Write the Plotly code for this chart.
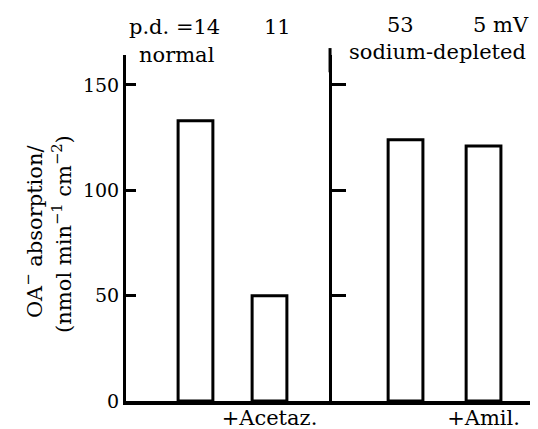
import plotly.graph_objects as go

# ---- data ----
conditions = ["normal", "normal +Acetaz.", "sodium-depleted", "sodium-depleted +Amil."]
oa_absorption = [133, 50, 124, 121]
tick_labels = ["", "+Acetaz.", "", "+Amil."]
pd_labels = ["p.d. =14", "11", "53", "5 mV"]
group_labels = ["normal", "sodium-depleted"]
y_ticks = [0, 50, 100, 150]

# ---- layout constants ----
x_pos = [1.0, 2.0, 3.838, 4.892]
divider_pos = 2.818
x_range = [0.061, 5.628]
y_range = [0, 164.2]
FONT = "DejaVu Serif"
TXT = 21

fig = go.Figure()
fig.add_trace(go.Bar(
    x=x_pos, y=oa_absorption, width=0.47,
    marker=dict(color="white", line=dict(color="black", width=3)),
    hovertext=conditions, showlegend=False,
))
fig.add_trace(go.Scatter(x=[divider_pos], y=[None], yaxis="y2",
                         mode="lines", showlegend=False))

# the page body has an 8px default margin, so the figure is 8px smaller
fig.update_layout(
    width=530, height=421,
    margin=dict(l=118, r=0, t=47, b=28),
    paper_bgcolor="white", plot_bgcolor="white",
    font=dict(family=FONT, color="black", size=19),
    xaxis=dict(range=x_range, showgrid=False, zeroline=False, automargin=False,
               showline=True, linecolor="black", linewidth=3.5,
               tickvals=x_pos, ticktext=tick_labels, ticks="",
               ticklabelstandoff=-5,
               tickfont=dict(family=FONT, size=TXT)),
    yaxis=dict(range=y_range, showgrid=False, zeroline=False, automargin=False,
               showline=True, linecolor="black", linewidth=3,
               tickvals=y_ticks, ticks="inside", ticklen=10, tickwidth=3,
               tickcolor="black", tickfont=dict(family=FONT, size=19)),
    yaxis2=dict(range=y_range, overlaying="y", anchor="free", automargin=False,
                position=(divider_pos - x_range[0]) / (x_range[1] - x_range[0]),
                side="left", showgrid=False, zeroline=False,
                showline=True, linecolor="black", linewidth=3,
                tickvals=y_ticks[1:], ticks="inside", ticklen=14, tickwidth=3,
                tickcolor="black", showticklabels=False),
    shapes=[dict(type="line", xref="x", yref="paper",
                 x0=divider_pos, x1=divider_pos, y0=0.95, y1=1.02,
                 line=dict(color="black", width=3))],
)

tf = dict(family=FONT, size=TXT, color="black")
ann = []
# p.d. labels above bars
ann.append(dict(x=x_pos[0], y=1.0, xref="x", yref="paper", text=pd_labels[0], font=tf,
                xanchor="right", yanchor="middle", xshift=27, yshift=28, showarrow=False))
ann.append(dict(x=x_pos[1], y=1.0, xref="x", yref="paper", text=pd_labels[1], font=tf,
                xanchor="center", yanchor="middle", xshift=8, yshift=28, showarrow=False))
ann.append(dict(x=x_pos[2], y=1.0, xref="x", yref="paper", text=pd_labels[2], font=tf,
                xanchor="center", yanchor="middle", xshift=-5, yshift=30, showarrow=False))
ann.append(dict(x=x_pos[3], y=1.0, xref="x", yref="paper", text=pd_labels[3], font=tf,
                xanchor="left", yanchor="middle", xshift=-13, yshift=30, showarrow=False))
# group labels
ann.append(dict(x=x_range[0], y=1.0, xref="x", yref="paper", text=group_labels[0], font=tf,
                xanchor="left", yanchor="middle", xshift=11, yshift=0, showarrow=False))
ann.append(dict(x=divider_pos, y=1.0, xref="x", yref="paper", text=group_labels[1], font=tf,
                xanchor="left", yanchor="middle", xshift=17, yshift=3, showarrow=False))
# y-axis title (two lines)
ann.append(dict(x=0, y=0.491, xref="paper", yref="paper",
                text="OA<sup>−</sup> absorption/", textangle=-90, font=tf,
                xanchor="center", yanchor="middle", xshift=-93, showarrow=False))
ann.append(dict(x=0, y=0.483, xref="paper", yref="paper",
                text="(nmol min<sup>−1</sup> cm<sup>−2</sup>)", textangle=-90, font=tf,
                xanchor="center", yanchor="middle", xshift=-64, showarrow=False))
fig.update_layout(annotations=ann)

fig.write_html("out.html")
